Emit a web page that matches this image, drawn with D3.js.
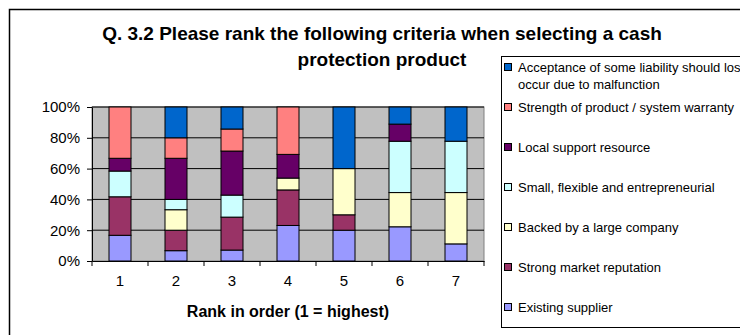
<!DOCTYPE html>
<html><head><meta charset="utf-8">
<script src="https://cdn.jsdelivr.net/npm/d3@7"></script>
<style>body{margin:0;background:#fff}svg{display:block;font-family:Arial,"Liberation Sans",sans-serif}</style>
</head><body><svg id="c" width="740" height="335"></svg>
<script>
const ranks = ["1","2","3","4","5","6","7"];
const seriesNames = ["Existing supplier","Strong market reputation","Backed by a large company","Small, flexible and entrepreneurial","Local support resource","Strength of product / system warranty","Acceptance of some liability should loss occur due to malfunction"];
const existingSupplier = [16.7, 6.7, 7.1, 23.1, 20.0, 22.2, 11.1];
const strongReputation = [25.0, 13.3, 21.4, 23.1, 10.0, 0, 0];
const backedLarge = [0, 13.3, 0, 7.7, 30.0, 22.2, 33.3];
const smallFlexible = [16.7, 6.7, 14.3, 0, 0, 33.3, 33.3];
const localSupport = [8.3, 26.7, 28.6, 15.4, 0, 11.1, 0];
const strengthWarranty = [33.3, 13.3, 14.3, 30.8, 0, 0, 0];
const acceptanceLiability = [0, 20.0, 14.3, 0, 40.0, 11.1, 22.2];
const yTicks = [0, 0.2, 0.4, 0.6, 0.8, 1.0];
const colors = ["#9999FF","#993366","#FFFFCC","#CCFFFF","#660066","#FF8080","#0066CC"];

const seriesVals = [existingSupplier, strongReputation, backedLarge, smallFlexible, localSupport, strengthWarranty, acceptanceLiability];
const keys = seriesNames.map((_, i) => "s" + i);
const table = ranks.map((r, j) => { const o = {rank: r}; keys.forEach((k, i) => o[k] = seriesVals[i][j]); return o; });
const stacked = d3.stack().keys(keys).offset(d3.stackOffsetExpand)(table);

const svg = d3.select("#c");
const L = 92, R = 484, T = 107, B = 261;
const x = d3.scaleBand().domain(ranks).range([L, R]).paddingInner(0).paddingOuter(0);
const y = d3.scaleLinear().domain([0, 1]).range([B, T]);

// outer frame
svg.append("rect").attr("x", 9.5).attr("y", 9.5).attr("width", 800).attr("height", 400).attr("fill", "#fff").attr("stroke", "#000").attr("stroke-width", 1.5);

// title
const title = svg.append("text").attr("text-anchor", "middle").attr("font-weight", "bold").attr("font-size", 19).attr("fill", "#000");
title.append("tspan").attr("x", 382).attr("y", 39.5).text("Q. 3.2  Please rank the following criteria when selecting a cash");
title.append("tspan").attr("x", 382).attr("y", 66).text("protection product");

// plot area
svg.append("rect").attr("x", L).attr("y", T).attr("width", R - L).attr("height", B - T).attr("fill", "#C0C0C0").attr("stroke", "#808080");
svg.append("g").selectAll("line").data(yTicks.slice(1)).join("line")
  .attr("x1", L).attr("x2", R).attr("y1", d => y(d)).attr("y2", d => y(d)).attr("stroke", "#000");

// bars
const bw = 22;
svg.append("g").selectAll("g").data(stacked).join("g").attr("fill", (d, i) => colors[i])
  .selectAll("rect").data(d => d).join("rect")
  .attr("x", d => x(d.data.rank) + x.bandwidth() / 2 - bw / 2)
  .attr("width", bw)
  .attr("y", d => y(d[1]))
  .attr("height", d => Math.max(0, y(d[0]) - y(d[1])))
  .attr("stroke", "#000").attr("stroke-width", 1);

// y axis
const yAxis = svg.append("g").attr("transform", `translate(${L},0)`)
  .call(d3.axisLeft(y).tickValues(yTicks).tickFormat(d3.format(".0%")).tickSizeInner(5).tickSizeOuter(0).tickPadding(7));
yAxis.selectAll("text").attr("font-size", 15).attr("font-family", "Arial, 'Liberation Sans', sans-serif").attr("fill", "#000");
yAxis.select(".domain").attr("stroke", "#000");

// x axis
const xAxis = svg.append("g").attr("transform", `translate(0,${B})`)
  .call(d3.axisBottom(x).tickSize(0).tickPadding(14));
xAxis.selectAll("text").attr("font-size", 15).attr("font-family", "Arial, 'Liberation Sans', sans-serif").attr("fill", "#000");
xAxis.select(".domain").attr("stroke", "#000");
const bounds = ranks.map(r => x(r)).concat([R]);
svg.append("g").selectAll("line").data(bounds).join("line")
  .attr("x1", d => d).attr("x2", d => d).attr("y1", B).attr("y2", B + 5).attr("stroke", "#000");

svg.append("text").attr("x", 288).attr("y", 317).attr("text-anchor", "middle").attr("font-weight", "bold").attr("font-size", 16).text("Rank in order (1 = highest)");

// legend
svg.append("rect").attr("x", 501.5).attr("y", 56.5).attr("width", 300).attr("height", 271).attr("fill", "#fff").attr("stroke", "#000");
const legendOrder = d3.range(seriesNames.length).reverse();
const legendY = [67, 107, 147, 187, 227, 267, 307];
const lg = svg.append("g").selectAll("g").data(legendOrder).join("g")
  .attr("transform", (d, i) => `translate(0,${legendY[i]})`);
lg.append("rect").attr("x", 504.5).attr("y", -3.5).attr("width", 7).attr("height", 7).attr("fill", d => colors[d]).attr("stroke", "#000");
lg.each(function(d) {
  const t = d3.select(this).append("text").attr("x", 518).attr("y", 4.5).attr("font-size", 13).attr("fill", "#000");
  if (d === 6) {
    t.append("tspan").attr("x", 518).attr("y", 4.5).text("Acceptance of some liability should loss");
    t.append("tspan").attr("x", 518).attr("y", 21.5).text("occur due to malfunction");
  } else {
    t.text(seriesNames[d]);
  }
});
</script></body></html>
